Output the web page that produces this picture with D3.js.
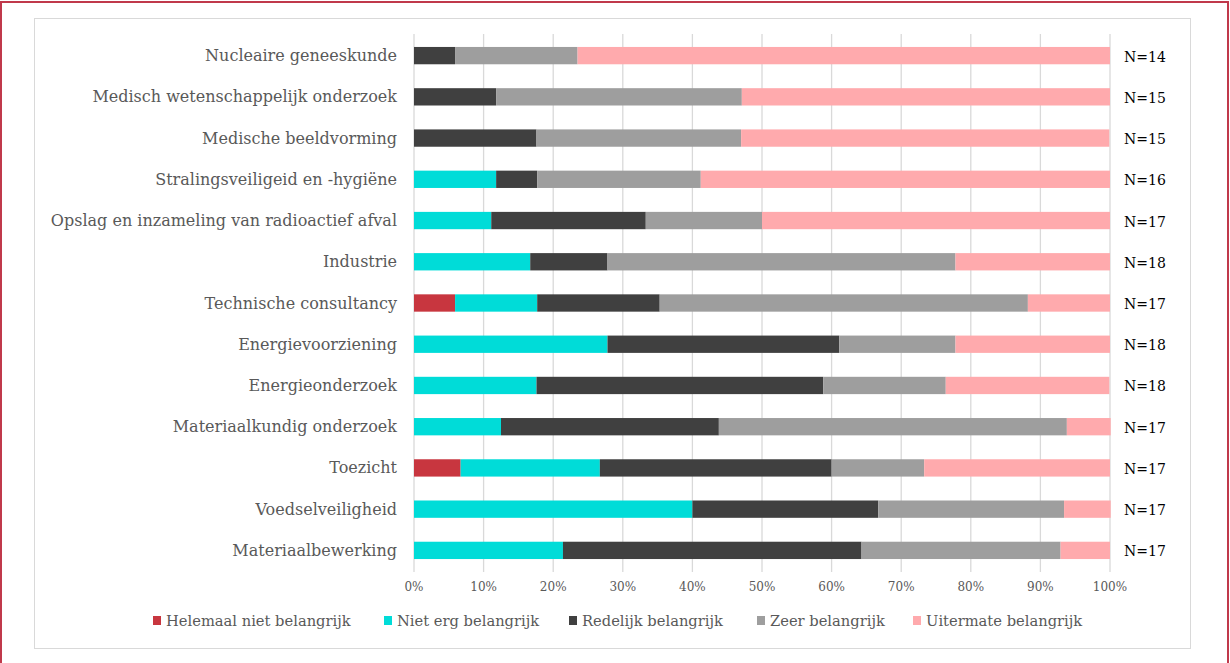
<!DOCTYPE html>
<html>
<head>
<meta charset="utf-8">
<script src="https://cdn.jsdelivr.net/npm/d3@7"></script>
<style>
  body { margin: 0; background: #fff; }
  svg text { font-family: "DejaVu Serif", Georgia, serif; }
</style>
</head>
<body>
<script>
const categories = [
  "Nucleaire geneeskunde",
  "Medisch wetenschappelijk onderzoek",
  "Medische beeldvorming",
  "Stralingsveiligeid en -hygiëne",
  "Opslag en inzameling van radioactief afval",
  "Industrie",
  "Technische consultancy",
  "Energievoorziening",
  "Energieonderzoek",
  "Materiaalkundig onderzoek",
  "Toezicht",
  "Voedselveiligheid",
  "Materiaalbewerking"
];
const nLabels = ["N=14", "N=15", "N=15", "N=16", "N=17", "N=18", "N=17", "N=18", "N=18", "N=17", "N=17", "N=17", "N=17"];

const seriesNames = ["Helemaal niet belangrijk", "Niet erg belangrijk", "Redelijk belangrijk", "Zeer belangrijk", "Uitermate belangrijk"];
const seriesColors = ["#c8363f", "#00dcd8", "#404040", "#9e9e9e", "#ffaaad"];

// percentages per category, same order as categories
const helemaalNiet = [0, 0, 0, 0, 0, 0, 5.9, 0, 0, 0, 6.7, 0, 0];
const nietErg      = [0, 0, 0, 11.8, 11.1, 16.7, 11.8, 27.8, 17.6, 12.5, 20.0, 40.0, 21.4];
const redelijk     = [5.9, 11.8, 17.6, 5.9, 22.2, 11.1, 17.6, 33.3, 41.2, 31.3, 33.3, 26.7, 42.9];
const zeer         = [17.6, 35.3, 29.4, 23.5, 16.7, 50.0, 52.9, 16.7, 17.6, 50.0, 13.3, 26.7, 28.6];
const uitermate    = [76.5, 52.9, 52.9, 58.8, 50.0, 22.2, 11.8, 22.2, 23.5, 6.3, 26.7, 6.7, 7.1];

const tickValues = [0, 10, 20, 30, 40, 50, 60, 70, 80, 90, 100];

const width = 1230, height = 663;
const seriesValues = [helemaalNiet, nietErg, redelijk, zeer, uitermate];

const rows = categories.map((c, i) => {
  const r = {category: c};
  seriesNames.forEach((s, j) => { r[s] = seriesValues[j][i]; });
  return r;
});
const stacked = d3.stack().keys(seriesNames)(rows);

const x = d3.scaleLinear().domain([0, 100]).range([414, 1110]);
const y = d3.scaleBand().domain(categories).range([35, 571]).paddingInner(0.58).paddingOuter(0.29);

const svg = d3.select("body").append("svg")
    .attr("width", width)
    .attr("height", height);

// outer red frame (bottom edge is cut off in the original)
svg.append("path")
    .attr("d", "M1,663 V2 H1228 V663")
    .attr("fill", "none")
    .attr("stroke", "#c0394b")
    .attr("stroke-width", 2);

// chart area border
svg.append("rect")
    .attr("x", 34.5).attr("y", 18.5)
    .attr("width", 1156).attr("height", 630)
    .attr("fill", "none")
    .attr("stroke", "#d9d9d9")
    .attr("stroke-width", 1);

// gridlines
svg.append("g")
  .selectAll("line")
  .data(tickValues)
  .join("line")
    .attr("x1", d => x(d)).attr("x2", d => x(d))
    .attr("y1", 34).attr("y2", 572)
    .attr("stroke", "#d9d9d9")
    .attr("stroke-width", 1.3);

// tick labels
svg.append("g")
  .selectAll("text")
  .data(tickValues)
  .join("text")
    .attr("x", d => x(d))
    .attr("y", 591)
    .attr("text-anchor", "middle")
    .attr("font-size", 12)
    .attr("fill", "#595959")
    .text(d => d + "%");

// bars
svg.append("g")
  .selectAll("g")
  .data(stacked)
  .join("g")
    .attr("fill", (d, i) => seriesColors[i])
  .selectAll("rect")
  .data(d => d)
  .join("rect")
    .attr("x", d => x(d[0]))
    .attr("width", d => x(d[1]) - x(d[0]))
    .attr("y", d => y(d.data.category))
    .attr("height", y.bandwidth());

// category labels
svg.append("g")
  .selectAll("text")
  .data(categories)
  .join("text")
    .attr("x", 397)
    .attr("y", d => y(d) + y.bandwidth() / 2 + 5.5)
    .attr("text-anchor", "end")
    .attr("font-size", 16)
    .attr("fill", "#595959")
    .text(d => d);

// N labels
svg.append("g")
  .selectAll("text")
  .data(nLabels)
  .join("text")
    .attr("x", 1124)
    .attr("y", (d, i) => y(categories[i]) + y.bandwidth() / 2 + 6)
    .attr("font-size", 14)
    .attr("fill", "#000")
    .text(d => d);

// legend
const legendX = [153, 384, 569, 757, 913];
const legend = svg.append("g")
  .selectAll("g")
  .data(seriesNames)
  .join("g")
    .attr("transform", (d, i) => `translate(${legendX[i]},616)`);
legend.append("rect")
    .attr("width", 8).attr("height", 9)
    .attr("fill", (d, i) => seriesColors[i]);
legend.append("text")
    .attr("x", 13).attr("y", 10)
    .attr("font-size", 14.7)
    .attr("fill", "#595959")
    .text(d => d);
</script>
</body>
</html>
